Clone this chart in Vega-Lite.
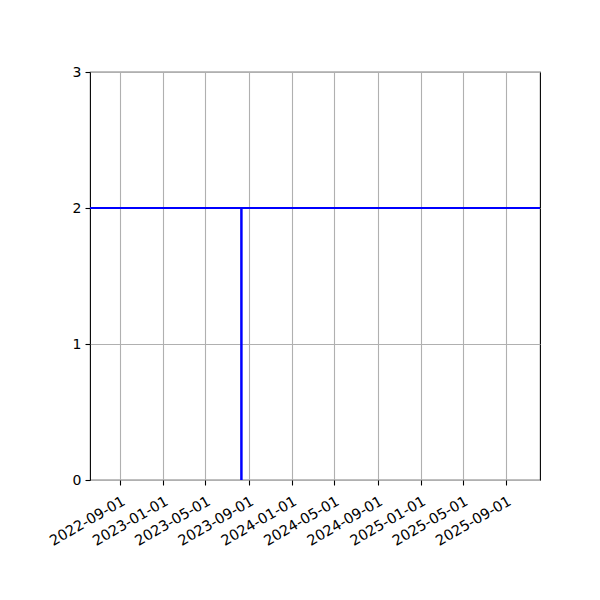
{
  "$schema": "https://vega.github.io/schema/vega-lite/v6.json",
  "width": 450,
  "height": 408,
  "autosize": {"type": "none"},
  "padding": {"left": 90, "top": 72, "right": 60, "bottom": 120},
  "background": "white",
  "config": {
    "view": {"stroke": "black", "strokeWidth": 1.1},
    "axis": {
      "labelFont": "DejaVu Sans",
      "labelFontSize": 14,
      "labelColor": "black",
      "domain": false,
      "tickColor": "black",
      "tickSize": 5,
      "tickWidth": 1.1,
      "grid": true,
      "gridColor": "#b0b0b0",
      "gridWidth": 1.1,
      "title": null
    }
  },
  "datasets": {
    "hline": [{"value": 2}],
    "vline": [{"date": "2023-08-11", "low": 0, "high": 2}]
  },
  "layer": [
    {
      "data": {"name": "vline"},
      "mark": {"type": "rule", "color": "#0000ff", "strokeWidth": 2.5},
      "encoding": {
        "x": {
          "field": "date",
          "type": "temporal",
          "scale": {
            "type": "utc",
            "domain": [
              {"year": 2022, "month": 6, "date": 7, "utc": true},
              {"year": 2025, "month": 12, "date": 6, "utc": true}
            ]
          },
          "axis": {
            "labelExpr": "utcFormat(datum.value, '%Y-%m-%d')",
            "labelAngle": -30,
            "labelAlign": "right",
            "labelBaseline": "top",
            "labelFontSize": 14.5,
            "labelPadding": 9,
            "labelDx": -3,
            "labelOverlap": false,
            "values": [
              {"year": 2022, "month": 9, "date": 1, "utc": true},
              {"year": 2023, "month": 1, "date": 1, "utc": true},
              {"year": 2023, "month": 5, "date": 1, "utc": true},
              {"year": 2023, "month": 9, "date": 1, "utc": true},
              {"year": 2024, "month": 1, "date": 1, "utc": true},
              {"year": 2024, "month": 5, "date": 1, "utc": true},
              {"year": 2024, "month": 9, "date": 1, "utc": true},
              {"year": 2025, "month": 1, "date": 1, "utc": true},
              {"year": 2025, "month": 5, "date": 1, "utc": true},
              {"year": 2025, "month": 9, "date": 1, "utc": true}
            ]
          }
        },
        "y": {
          "field": "low",
          "type": "quantitative",
          "scale": {"domain": [0, 3], "nice": false, "zero": false},
          "axis": {"values": [0, 1, 2, 3], "labelPadding": 4, "labelExpr": "format(datum.value, 'd')"}
        },
        "y2": {"field": "high"}
      }
    },
    {
      "data": {"name": "hline"},
      "mark": {"type": "rule", "color": "#0000ff", "strokeWidth": 2},
      "encoding": {
        "y": {"field": "value", "type": "quantitative"}
      }
    }
  ]
}
